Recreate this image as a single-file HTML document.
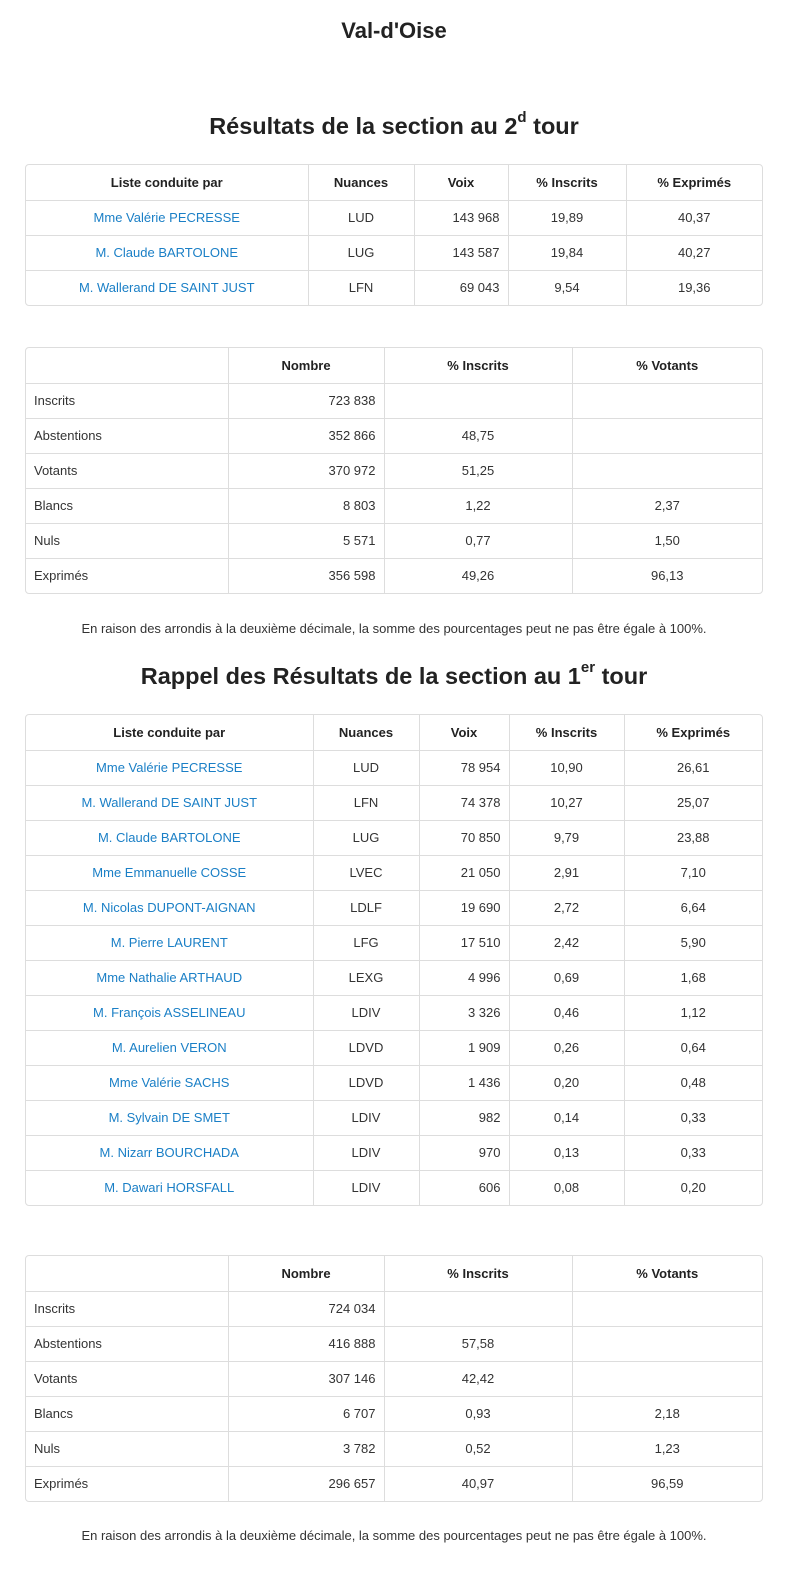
<!DOCTYPE html>
<html style="overflow:hidden;width:800px;height:1588px"><head><meta charset="utf-8"><style>
html,body{margin:0;padding:0}
body{background:#fff;font-family:"Liberation Sans",Arial,sans-serif;color:#333;font-size:13px;width:800px;height:1588px;position:relative;overflow:hidden}
h1,h2{position:absolute;left:0;width:788px;text-align:center;margin:0;font-weight:bold;color:#222}
h1{font-size:22px;top:18px}
h2{font-size:23.5px}
h2 sup{font-size:15px;vertical-align:top;position:relative;top:-4px}
.tw{position:absolute;left:25px;width:736px;border:1px solid #ddd;border-radius:4px;overflow:hidden}
table{border-collapse:collapse;width:100%;table-layout:fixed}
td,th{height:35px;padding:0 8px;border-left:1px solid #ddd;border-top:1px solid #ddd;box-sizing:border-box}
tr:first-child th,tr:first-child td{border-top:none}
td:first-child,th:first-child{border-left:none}
th{font-weight:bold;text-align:center;color:#222}
.c{text-align:center}.r{text-align:right}
a{color:#1a7fc6;text-decoration:none}
.note{position:absolute;left:0;width:788px;text-align:center;font-size:13px}
</style></head><body>
<h1>Val-d'Oise</h1>
<h2 style="top:113px">Résultats de la section au 2<sup>d</sup> tour</h2>
<div class="tw" style="top:164px"><table>
<colgroup><col style="width:282px"><col style="width:106px"><col style="width:94px"><col style="width:118px"><col></colgroup>
<tr><th>Liste conduite par</th><th>Nuances</th><th>Voix</th><th>% Inscrits</th><th>% Exprimés</th></tr>
<tr><td class="c"><a>Mme Valérie PECRESSE</a></td><td class="c">LUD</td><td class="r">143 968</td><td class="c">19,89</td><td class="c">40,37</td></tr>
<tr><td class="c"><a>M. Claude BARTOLONE</a></td><td class="c">LUG</td><td class="r">143 587</td><td class="c">19,84</td><td class="c">40,27</td></tr>
<tr><td class="c"><a>M. Wallerand DE SAINT JUST</a></td><td class="c">LFN</td><td class="r">69 043</td><td class="c">9,54</td><td class="c">19,36</td></tr>
</table></div>
<div class="tw" style="top:347px"><table>
<colgroup><col style="width:202px"><col style="width:156px"><col style="width:188px"><col></colgroup>
<tr><th></th><th>Nombre</th><th>% Inscrits</th><th>% Votants</th></tr>
<tr><td>Inscrits</td><td class="r">723 838</td><td></td><td></td></tr>
<tr><td>Abstentions</td><td class="r">352 866</td><td class="c">48,75</td><td></td></tr>
<tr><td>Votants</td><td class="r">370 972</td><td class="c">51,25</td><td></td></tr>
<tr><td>Blancs</td><td class="r">8 803</td><td class="c">1,22</td><td class="c">2,37</td></tr>
<tr><td>Nuls</td><td class="r">5 571</td><td class="c">0,77</td><td class="c">1,50</td></tr>
<tr><td>Exprimés</td><td class="r">356 598</td><td class="c">49,26</td><td class="c">96,13</td></tr>
</table></div>
<div class="note" style="top:621px">En raison des arrondis à la deuxième décimale, la somme des pourcentages peut ne pas être égale à 100%.</div>
<h2 style="top:663px">Rappel des Résultats de la section au 1<sup>er</sup> tour</h2>
<div class="tw" style="top:714px"><table>
<colgroup><col style="width:287px"><col style="width:106px"><col style="width:90px"><col style="width:115px"><col></colgroup>
<tr><th>Liste conduite par</th><th>Nuances</th><th>Voix</th><th>% Inscrits</th><th>% Exprimés</th></tr>
<tr><td class="c"><a>Mme Valérie PECRESSE</a></td><td class="c">LUD</td><td class="r">78 954</td><td class="c">10,90</td><td class="c">26,61</td></tr>
<tr><td class="c"><a>M. Wallerand DE SAINT JUST</a></td><td class="c">LFN</td><td class="r">74 378</td><td class="c">10,27</td><td class="c">25,07</td></tr>
<tr><td class="c"><a>M. Claude BARTOLONE</a></td><td class="c">LUG</td><td class="r">70 850</td><td class="c">9,79</td><td class="c">23,88</td></tr>
<tr><td class="c"><a>Mme Emmanuelle COSSE</a></td><td class="c">LVEC</td><td class="r">21 050</td><td class="c">2,91</td><td class="c">7,10</td></tr>
<tr><td class="c"><a>M. Nicolas DUPONT-AIGNAN</a></td><td class="c">LDLF</td><td class="r">19 690</td><td class="c">2,72</td><td class="c">6,64</td></tr>
<tr><td class="c"><a>M. Pierre LAURENT</a></td><td class="c">LFG</td><td class="r">17 510</td><td class="c">2,42</td><td class="c">5,90</td></tr>
<tr><td class="c"><a>Mme Nathalie ARTHAUD</a></td><td class="c">LEXG</td><td class="r">4 996</td><td class="c">0,69</td><td class="c">1,68</td></tr>
<tr><td class="c"><a>M. François ASSELINEAU</a></td><td class="c">LDIV</td><td class="r">3 326</td><td class="c">0,46</td><td class="c">1,12</td></tr>
<tr><td class="c"><a>M. Aurelien VERON</a></td><td class="c">LDVD</td><td class="r">1 909</td><td class="c">0,26</td><td class="c">0,64</td></tr>
<tr><td class="c"><a>Mme Valérie SACHS</a></td><td class="c">LDVD</td><td class="r">1 436</td><td class="c">0,20</td><td class="c">0,48</td></tr>
<tr><td class="c"><a>M. Sylvain DE SMET</a></td><td class="c">LDIV</td><td class="r">982</td><td class="c">0,14</td><td class="c">0,33</td></tr>
<tr><td class="c"><a>M. Nizarr BOURCHADA</a></td><td class="c">LDIV</td><td class="r">970</td><td class="c">0,13</td><td class="c">0,33</td></tr>
<tr><td class="c"><a>M. Dawari HORSFALL</a></td><td class="c">LDIV</td><td class="r">606</td><td class="c">0,08</td><td class="c">0,20</td></tr>
</table></div>
<div class="tw" style="top:1255px"><table>
<colgroup><col style="width:202px"><col style="width:156px"><col style="width:188px"><col></colgroup>
<tr><th></th><th>Nombre</th><th>% Inscrits</th><th>% Votants</th></tr>
<tr><td>Inscrits</td><td class="r">724 034</td><td></td><td></td></tr>
<tr><td>Abstentions</td><td class="r">416 888</td><td class="c">57,58</td><td></td></tr>
<tr><td>Votants</td><td class="r">307 146</td><td class="c">42,42</td><td></td></tr>
<tr><td>Blancs</td><td class="r">6 707</td><td class="c">0,93</td><td class="c">2,18</td></tr>
<tr><td>Nuls</td><td class="r">3 782</td><td class="c">0,52</td><td class="c">1,23</td></tr>
<tr><td>Exprimés</td><td class="r">296 657</td><td class="c">40,97</td><td class="c">96,59</td></tr>
</table></div>
<div class="note" style="top:1528px">En raison des arrondis à la deuxième décimale, la somme des pourcentages peut ne pas être égale à 100%.</div>
</body></html>
